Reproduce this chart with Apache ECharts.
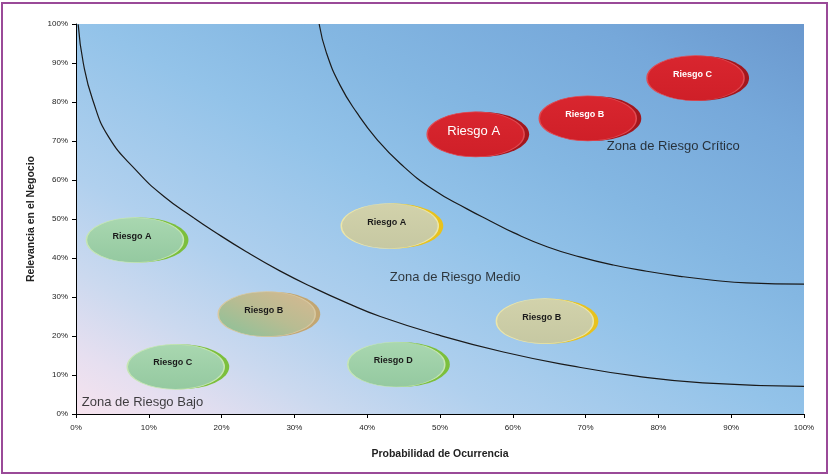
<!DOCTYPE html>
<html>
<head>
<meta charset="utf-8">
<script src="https://cdn.jsdelivr.net/npm/echarts@6/dist/echarts.min.js"></script>
<style>
html,body{margin:0;padding:0;background:#fff;}
#chart{width:829px;height:475px;}
</style>
</head>
<body>
<div id="chart"></div>
<script>
// ---- data (percent values) ----
const xTicks = [0,10,20,30,40,50,60,70,80,90,100];
const yTicks = [0,10,20,30,40,50,60,70,80,90,100];

// boundary between low and medium risk
const innerCurve = [[0.3,99.9],[1.0,90.0],[2.3,80.5],[4.5,71.0],[8.3,62.4],[12.0,55.9],[16.1,50.4],[18.8,47.0],[23.4,41.6],[28.0,36.7],[32.6,32.4],[37.2,28.5],[41.8,25.0],[49.5,20.4],[58.7,15.9],[67.9,12.4],[77.0,9.7],[86.1,8.0],[100,7.1]];
// boundary between medium and critical risk
const outerCurve = [[33.4,100],[34.4,92.6],[36.3,84.2],[38.6,77.2],[41.3,70.5],[44.5,64.3],[49.0,57.6],[53.7,52.6],[56.9,49.5],[60.1,46.5],[64.7,42.9],[69.2,40.3],[73.8,38.2],[78.4,36.6],[83.0,35.3],[87.5,34.3],[92.1,33.6],[100,33.3]];

const lowNames = ['Riesgo A','Riesgo C','Riesgo D'];
const lowX = [8.1, 13.7, 44.0];
const lowY = [44.6, 12.1, 12.7];

const lowMixNames = ['Riesgo B'];
const lowMixX = [26.2];
const lowMixY = [25.6];

const medNames = ['Riesgo A','Riesgo B'];
const medX = [43.1, 64.4];
const medY = [48.2, 23.8];

const critNames = ['Riesgo A','Riesgo B','Riesgo C'];
const critX = [54.9, 70.3, 85.1];
const critY = [71.7, 75.8, 86.1];

const zoneNames = ['Zona de Riesgo Bajo','Zona de Riesgo Medio','Zona de Riesgo Crítico'];
const zoneX = [0.8, 43.1, 72.9];
const zoneY = [3.0, 35.1, 68.5];

// ---- build ----
const FONT = '"Liberation Sans", Arial, sans-serif';
function pts(names, xs, ys){ return names.map((n,i)=>({name:n, value:[xs[i], ys[i]]})); }

const EW = 97, EH = 45, SIDE = 5;

function ellipseSeries(data, frontColor, sideColor, borderColor, textColor, bold, z){
  return [
    { type:'scatter', data:data, symbol:'circle', symbolSize:[EW,EH], symbolOffset:[SIDE,0],
      itemStyle:{color:sideColor, opacity:1}, z:z, silent:true, emphasis:{disabled:true} },
    { type:'scatter', data:data, symbol:'circle', symbolSize:[EW,EH],
      itemStyle:{color:frontColor, borderColor:borderColor, borderWidth:1, opacity:1}, z:z+1, silent:true,
      emphasis:{disabled:true},
      label:{show:true, position:'inside', formatter:'{b}', color:textColor, fontFamily:FONT,
        fontSize:9, fontWeight:bold?'bold':'normal', offset:[-3,-4]} }
  ];
}

const greenFront = {type:'linear',x:0,y:0,x2:0,y2:1,colorStops:[{offset:0,color:'#a9d7b0'},{offset:1,color:'#94c9a0'}]};
const mixFront = {type:'linear',x:0,y:1,x2:1,y2:0,colorStops:[{offset:0,color:'#86c29a'},{offset:0.5,color:'#b8bc92'},{offset:1,color:'#d8b890'}]};
const khakiFront = {type:'linear',x:0,y:0,x2:0,y2:1,colorStops:[{offset:0,color:'#d2d2ab'},{offset:1,color:'#c6c8a2'}]};
const redFront = {type:'linear',x:0,y:0,x2:0,y2:1,colorStops:[{offset:0,color:'#d9262f'},{offset:1,color:'#cf1f28'}]};

const critData = pts(critNames, critX, critY).map(d => d.name==='Riesgo A'
  ? Object.assign(d, {label:{fontSize:13, fontWeight:'normal', offset:[-2,-3]}}) : d);

const curveStyle = {type:'line', smooth:0.5, showSymbol:false, symbol:'none', silent:true,
  lineStyle:{color:'#1a1a1a', width:1.2}, z:2};

const series = [
  Object.assign({data:innerCurve}, curveStyle),
  Object.assign({data:outerCurve}, curveStyle),
  ...ellipseSeries(pts(lowNames, lowX, lowY), greenFront, '#7cbf3c', '#c6e6b4', '#1a1a1a', true, 4),
  ...ellipseSeries(pts(lowMixNames, lowMixX, lowMixY), mixFront, '#c2a672', '#d8c8a0', '#1a1a1a', true, 4),
  ...ellipseSeries(pts(medNames, medX, medY), khakiFront, '#e8c21e', '#ece6a8', '#1a1a1a', true, 4),
  ...ellipseSeries(critData, redFront, '#a3161d', '#e04a52', '#ffffff', true, 4),
  { type:'scatter', data:pts(zoneNames, zoneX, zoneY), symbolSize:0, silent:true, z:8,
    label:{show:true, position:'inside', formatter:'{b}', align:'left', verticalAlign:'middle',
      color:'#111', fontFamily:FONT, fontSize:13} }
];

const axisCommon = {
  type:'value', min:0, max:100, interval:10,
  axisLine:{show:true, lineStyle:{color:'#000', width:1}},
  axisTick:{show:true, length:4, lineStyle:{color:'#000'}},
  splitLine:{show:false},
  axisLabel:{formatter:'{value}%', color:'#222', fontSize:8, fontFamily:FONT},
  nameLocation:'middle',
  nameTextStyle:{color:'#222', fontSize:10.5, fontWeight:'bold', fontFamily:FONT}
};

const chart = echarts.init(document.getElementById('chart'), null, {renderer:'canvas'});
chart.setOption({
  animation:false,
  backgroundColor:'#ffffff',
  grid:{left:76, right:25, top:24, bottom:61, show:true, borderWidth:0,
    backgroundColor:{type:'linear', global:true, x:76, y:414, x2:413, y2:-193,
      colorStops:[
        {offset:0, color:'#f7e3ee'},
        {offset:0.08, color:'#e6dff0'},
        {offset:0.18, color:'#cbd9ef'},
        {offset:0.3, color:'#b0d0ee'},
        {offset:0.5, color:'#93c3e9'},
        {offset:0.65, color:'#84b7e2'},
        {offset:0.85, color:'#76a8da'},
        {offset:1, color:'#6a98ce'}
      ]}},
  xAxis:Object.assign({}, axisCommon, {name:'Probabilidad de Ocurrencia', nameGap:35,
    axisLabel:Object.assign({}, axisCommon.axisLabel, {margin:10})}),
  yAxis:Object.assign({}, axisCommon, {name:'Relevancia en el Negocio', nameGap:38, nameRotate:90,
    axisLabel:Object.assign({}, axisCommon.axisLabel, {margin:8})}),
  graphic:[{type:'rect', shape:{x:2, y:3, width:825, height:470}, silent:true,
    style:{fill:'none', stroke:'#9a4a98', lineWidth:2}, z:100}],
  series:series
});
</script>
</body>
</html>
